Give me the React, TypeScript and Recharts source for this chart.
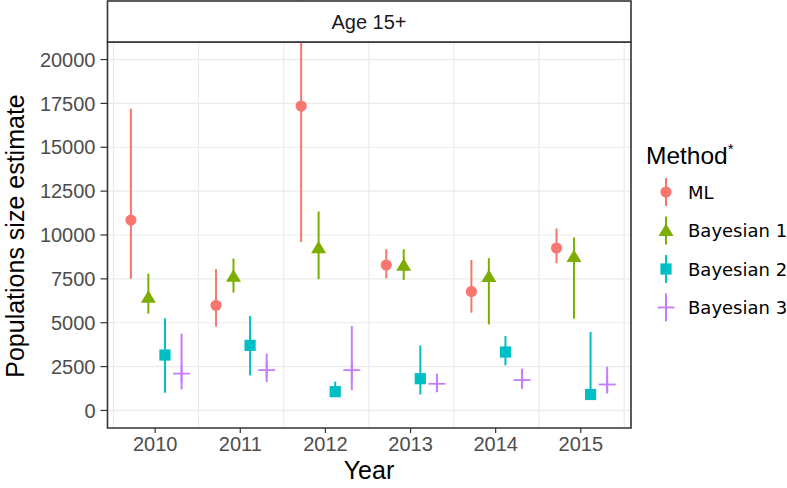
import {
  ScatterChart,
  Scatter,
  ErrorBar,
  XAxis,
  YAxis,
  CartesianGrid,
  ReferenceArea,
} from 'recharts'

const years = [2010, 2011, 2012, 2013, 2014, 2015]

const mlEst = [10850, 5990, 17350, 8290, 6780, 9260]
const mlLow = [7500, 4780, 9600, 7530, 5570, 8390]
const mlHigh = [17200, 8050, 23500, 9190, 8580, 10370]

const b1Est = [6450, 7650, 9280, 8280, 7630, 8770]
const b1Low = [5520, 6720, 7480, 7440, 4900, 5230]
const b1High = [7800, 8660, 11340, 9190, 8680, 9860]

const b2Est = [3160, 3710, 1070, 1810, 3330, 910]
const b2Low = [1010, 2000, 950, 910, 2570, 850]
const b2High = [5250, 5380, 1640, 3710, 4240, 4470]

const b3Est = [2100, 2300, 2300, 1520, 1730, 1480]
const b3Low = [1200, 1620, 1160, 1050, 1240, 970]
const b3High = [4380, 3240, 4810, 2100, 2380, 2490]

const yTicks = [0, 2500, 5000, 7500, 10000, 12500, 15000, 17500, 20000]
const yGrid = [0, 1250, 2500, 3750, 5000, 6250, 7500, 8750, 10000, 11250, 12500, 13750, 15000, 16250, 17500, 18750, 20000]
const xGrid = [2009.51, 2010.51, 2011.51, 2012.51, 2013.51, 2014.51, 2015.51]
const X_DOMAIN: [number, number] = [2009.44, 2015.59]
const Y_DOMAIN: [number, number] = [-1000, 21000]

const COLORS = { ml: '#F8766D', b1: '#7CAE00', b2: '#00BFC4', b3: '#C77CFF' }
const SANS = '"Liberation Sans", Arial, Helvetica, sans-serif'

// dodge offsets (in years) for each method
const build = (est: number[], low: number[], high: number[], dodge: number) =>
  years.map((yr, i) => ({
    x: yr + dodge,
    y: est[i],
    err: [est[i] - low[i], high[i] - est[i]],
  }))

const mlData = build(mlEst, mlLow, mlHigh, -0.285)
const b1Data = build(b1Est, b1Low, b1High, -0.08)
const b2Data = build(b2Est, b2Low, b2High, 0.115)
const b3Data = build(b3Est, b3Low, b3High, 0.31)

const dot = (color: string) => (p: any) => <circle cx={p.cx} cy={p.cy} r={5.6} fill={color} />
const tri = (color: string) => (p: any) => (
  <polygon
    points={`${p.cx},${p.cy - 7} ${p.cx - 7.5},${p.cy + 5.5} ${p.cx + 7.5},${p.cy + 5.5}`}
    fill={color}
  />
)
const sq = (color: string) => (p: any) => (
  <rect x={p.cx - 5.6} y={p.cy - 5.6} width={11.2} height={11.2} fill={color} />
)
const plus = (color: string) => (p: any) => (
  <g stroke={color} strokeWidth={1.8}>
    <line x1={p.cx - 8.5} y1={p.cy} x2={p.cx + 8.5} y2={p.cy} />
    <line x1={p.cx} y1={p.cy - 8.5} x2={p.cx} y2={p.cy + 8.5} />
  </g>
)

const legendItems = [
  { name: 'ML', color: COLORS.ml, kind: 'dot' },
  { name: 'Bayesian 1', color: COLORS.b1, kind: 'tri' },
  { name: 'Bayesian 2', color: COLORS.b2, kind: 'sq' },
  { name: 'Bayesian 3', color: COLORS.b3, kind: 'plus' },
]

function LegendGlyph({ kind, color, cx, cy }: { kind: string; color: string; cx: number; cy: number }) {
  const p = { cx, cy }
  return (
    <g>
      <line x1={cx} y1={cy - 14} x2={cx} y2={cy + 14} stroke={color} strokeWidth={2} />
      {kind === 'dot' && dot(color)(p)}
      {kind === 'tri' && tri(color)(p)}
      {kind === 'sq' && sq(color)(p)}
      {kind === 'plus' && plus(color)(p)}
    </g>
  )
}

export default function App() {
  return (
    <div style={{ position: 'absolute', left: 0, top: 0, width: 787, height: 488, background: '#fff' }}>
      <ScatterChart width={787} height={488} margin={{ top: 42, right: 156, bottom: 0, left: 0 }}>
        <CartesianGrid
          stroke="#EBEBEB"
          strokeWidth={1.2}
          horizontalValues={yGrid}
          verticalValues={xGrid}
        />
        <XAxis
          type="number"
          dataKey="x"
          domain={X_DOMAIN}
          ticks={years}
          allowDataOverflow
          height={60}
          axisLine={false}
          tickSize={5}
          tickMargin={4}
          tickLine={{ stroke: '#333', strokeWidth: 1.2 }}
          tick={{ fontSize: 20, fill: '#4D4D4D', fontFamily: SANS }}
        />
        <YAxis
          type="number"
          dataKey="y"
          domain={Y_DOMAIN}
          ticks={yTicks}
          allowDataOverflow
          width={107.5}
          axisLine={false}
          tickSize={7}
          tickMargin={5}
          tickLine={{ stroke: '#333', strokeWidth: 1.2 }}
          tick={{ fontSize: 20, fill: '#4D4D4D', fontFamily: SANS }}
        />
        <Scatter data={mlData} shape={dot(COLORS.ml)} isAnimationActive={false}>
          <ErrorBar dataKey="err" direction="y" width={0} stroke={COLORS.ml} strokeWidth={2} />
        </Scatter>
        <Scatter data={b1Data} shape={tri(COLORS.b1)} isAnimationActive={false}>
          <ErrorBar dataKey="err" direction="y" width={0} stroke={COLORS.b1} strokeWidth={2} />
        </Scatter>
        <Scatter data={b2Data} shape={sq(COLORS.b2)} isAnimationActive={false}>
          <ErrorBar dataKey="err" direction="y" width={0} stroke={COLORS.b2} strokeWidth={2} />
        </Scatter>
        <Scatter data={b3Data} shape={plus(COLORS.b3)} isAnimationActive={false}>
          <ErrorBar dataKey="err" direction="y" width={0} stroke={COLORS.b3} strokeWidth={2} />
        </Scatter>
        <ReferenceArea
          x1={X_DOMAIN[0]}
          x2={X_DOMAIN[1]}
          y1={Y_DOMAIN[0]}
          y2={Y_DOMAIN[1]}
          fill="none"
          stroke="#333"
          strokeWidth={1.6}
          ifOverflow="visible"
        />
      </ScatterChart>

      <svg
        width={787}
        height={488}
        style={{ position: 'absolute', left: 0, top: 0, pointerEvents: 'none' }}
      >
        {/* facet strip */}
        <rect x={107.5} y={1} width={523.5} height={41} fill="#fff" stroke="#333" strokeWidth={1.6} />
        <text x={369} y={22} textAnchor="middle" dominantBaseline="central" fontSize={20} fill="#1A1A1A" fontFamily={SANS}>
          Age 15+
        </text>

        {/* axis titles */}
        <text x={369} y={479} textAnchor="middle" fontSize={25} fill="#000" fontFamily={SANS}>
          Year
        </text>
        <text
          x={0}
          y={0}
          transform="translate(24,236) rotate(-90)"
          textAnchor="middle"
          fontSize={25}
          fill="#000"
          fontFamily={SANS}
        >
          Populations size estimate
        </text>

        {/* legend */}
        <text x={646} y={164} fontSize={24.5} fill="#000" fontFamily={SANS}>
          Method<tspan dy={-10} fontSize={15}>*</tspan>
        </text>
        {legendItems.map((it, i) => (
          <g key={it.name}>
            <LegendGlyph kind={it.kind} color={it.color} cx={666} cy={192 + i * 38.5} />
            <text
              x={688}
              y={192 + i * 38.5}
              dominantBaseline="central"
              fontSize={18}
              fill="#000"
              fontFamily='"DejaVu Sans", sans-serif'
            >
              {it.name}
            </text>
          </g>
        ))}
      </svg>
    </div>
  )
}
